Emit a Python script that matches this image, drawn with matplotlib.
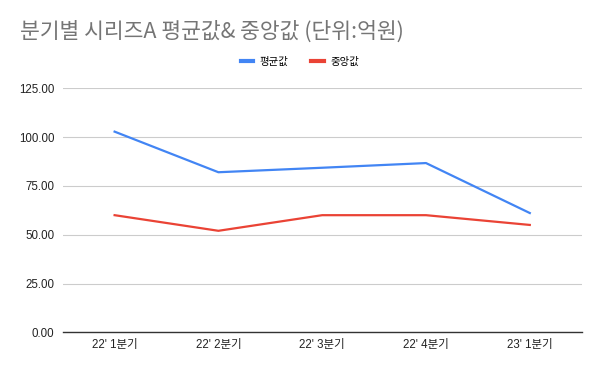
import matplotlib
matplotlib.use("Agg")
import matplotlib.pyplot as plt
from matplotlib.lines import Line2D

plt.rcParams['font.family'] = ['Liberation Sans', 'Noto Sans CJK KR', 'DejaVu Sans']

# datos
quarters = ["22' 1분기", "22' 2분기", "22' 3분기", "22' 4분기", "23' 1분기"]
mean_vals = [102.8, 82.0, 84.3, 86.7, 61.1]
median_vals = [60.0, 52.0, 60.0, 60.0, 55.0]
yticks = [0, 25, 50, 75, 100, 125]

blue = '#4285F4'
red = '#EA4335'

fig = plt.figure(figsize=(6, 3.71), dpi=100)
ax = fig.add_axes([62.7 / 600, 38.7 / 371, 519 / 600, 244 / 371])

x = range(len(quarters))
ax.plot(x, mean_vals, color=blue, lw=1.6, label='평균값')
ax.plot(x, median_vals, color=red, lw=1.6, label='중앙값')

ax.set_xlim(-0.5, len(quarters) - 0.5)
ax.set_ylim(0, 125)
ax.set_yticks(yticks)
ax.set_yticklabels([f'{v:.2f}' for v in yticks])
ax.set_xticks(list(x))
ax.set_xticklabels(quarters)
ax.tick_params(axis='both', length=0, labelsize=8.3, colors='#222222')
ax.tick_params(axis='y', pad=6)
ax.tick_params(axis='x', pad=5)

ax.grid(axis='y', color='#cccccc', lw=0.8)
ax.set_axisbelow(True)
for s in ['top', 'right', 'left']:
    ax.spines[s].set_visible(False)
ax.spines['bottom'].set_color('#333333')
ax.spines['bottom'].set_linewidth(1)

# titulo
fig.text(20 / 600, 1 - 32 / 371, '분기별 시리즈A 평균값& 중앙값 (단위:억원)',
         fontsize=15.5, color='#757575', va='center', ha='left',
         family=['Noto Sans CJK KR', 'DejaVu Sans'])

handles = [Line2D([], [], color=blue, lw=3), Line2D([], [], color=red, lw=3)]
fig.legend(handles, ['평균값', '중앙값'], loc='center', bbox_to_anchor=(0.5, 1 - 62 / 371),
           ncol=2, frameon=False, handlelength=1.2, handletextpad=0.6,
           columnspacing=2.2, prop={'family': ['Noto Sans CJK KR'], 'size': 7.5})

fig.savefig('out.png', dpi=100, facecolor='white')
